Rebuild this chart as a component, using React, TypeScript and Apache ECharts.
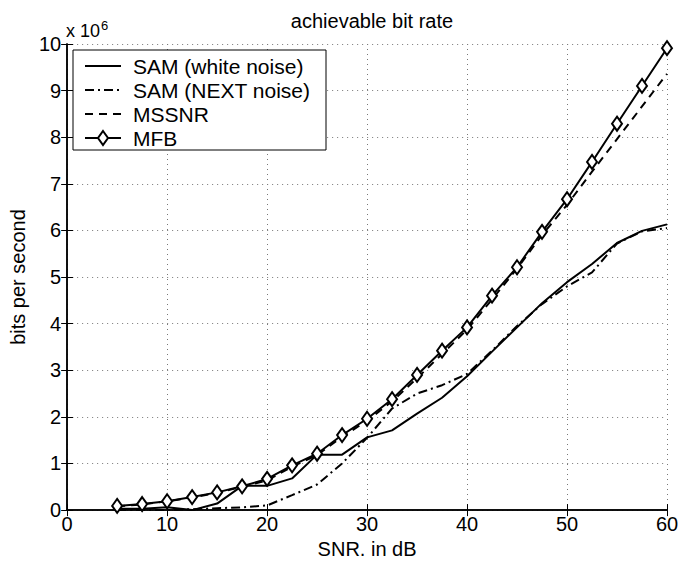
import React, { useEffect, useRef } from "react";
import * as echarts from "echarts";

const snr = [5, 7.5, 10, 12.5, 15, 17.5, 20, 22.5, 25, 27.5, 30, 32.5, 35, 37.5, 40, 42.5, 45, 47.5, 50, 52.5, 55, 57.5, 60];
const samWhite = [0.03, 0.03, 0.06, 0.0, 0.14, 0.52, 0.52, 0.68, 1.19, 1.19, 1.56, 1.71, 2.07, 2.41, 2.87, 3.4, 3.92, 4.44, 4.89, 5.28, 5.73, 5.99, 6.13];
const samNext = [0.0, 0.0, 0.0, 0.02, 0.04, 0.06, 0.1, 0.32, 0.55, 1.0, 1.55, 2.18, 2.5, 2.68, 2.92, 3.42, 3.95, 4.42, 4.8, 5.1, 5.72, 5.98, 6.05];
const mssnr = [0.08, 0.12, 0.19, 0.27, 0.37, 0.5, 0.64, 0.93, 1.18, 1.57, 1.92, 2.33, 2.83, 3.35, 3.87, 4.52, 5.18, 5.9, 6.55, 7.26, 7.96, 8.66, 9.36];
const mfb = [0.09, 0.13, 0.19, 0.28, 0.38, 0.51, 0.67, 0.96, 1.21, 1.61, 1.96, 2.38, 2.9, 3.42, 3.92, 4.6, 5.21, 5.97, 6.67, 7.47, 8.29, 9.1, 9.91];

const names = ["SAM (white noise)", "SAM (NEXT noise)", "MSSNR", "MFB"];
const FONT = "'Liberation Sans', Arial, Helvetica, sans-serif";

const pairs = (ys: number[]) => snr.map((x, i) => [x, ys[i]]);

const DASHDOT = [9, 4, 2, 4];
const DASHED = [8, 6];

export default function App() {
  const ref = useRef<HTMLDivElement>(null);
  useEffect(() => {
    if (!ref.current) return;
    const chart = echarts.init(ref.current, null, { renderer: "svg" });
    const gridLine = { show: true, lineStyle: { color: "#777", type: [1, 4] as any, width: 1 } };
    const lineW = 2;
    const tick = { show: true, inside: true, length: 6, lineStyle: { color: "#000" } };
    const axLine = { show: true, lineStyle: { color: "#000", width: 1.5 } };

    // custom legend
    const lgX = 73, lgY = 50, lgW = 253, lgH = 100;
    const rowY = [66, 90, 114, 138];
    const styles: any[] = [null, DASHDOT, DASHED, null];
    const legendEls: any[] = [
      { type: "rect", shape: { x: lgX, y: lgY, width: lgW, height: lgH }, style: { fill: "#fff", stroke: "#000", lineWidth: 1 }, z: 100 },
    ];
    names.forEach((n, i) => {
      legendEls.push({
        type: "line",
        shape: { x1: 85, y1: rowY[i], x2: 121, y2: rowY[i] },
        style: { stroke: "#000", lineWidth: 2, lineDash: styles[i] || null },
        z: 101,
      });
      legendEls.push({
        type: "text",
        x: 133,
        y: rowY[i],
        style: { text: n, fontFamily: FONT, fontSize: 21, fill: "#000", verticalAlign: "middle", align: "left" },
        z: 101,
      });
    });
    legendEls.push({
      type: "polygon",
      shape: { points: [[103, rowY[3] - 7], [108, rowY[3]], [103, rowY[3] + 7], [98, rowY[3]]] },
      style: { fill: "#fff", stroke: "#000", lineWidth: 2 },
      z: 102,
    });

    chart.setOption({
      animation: false,
      backgroundColor: "#fff",
      textStyle: { fontFamily: FONT },
      title: {
        text: "achievable bit rate",
        left: 367,
        top: 6,
        textAlign: "center",
        textStyle: { fontFamily: FONT, fontSize: 20, fontWeight: "normal", color: "#000" },
      },
      grid: { left: 67, right: 29, top: 44, bottom: 49 },
      xAxis: [
        {
          type: "value",
          min: 0,
          max: 60,
          interval: 10,
          name: "SNR, in dB",
          nameLocation: "middle",
          nameGap: 24,
          nameTextStyle: { fontFamily: FONT, fontSize: 20, color: "#000" },
          axisLine: axLine,
          axisTick: tick,
          axisLabel: { fontFamily: FONT, fontSize: 20, color: "#000", margin: 4 },
          splitLine: gridLine,
        },
        {
          type: "value",
          position: "top",
          min: 0,
          max: 60,
          interval: 10,
          axisLine: axLine,
          axisTick: tick,
          axisLabel: { show: false },
          splitLine: { show: false },
        },
      ],
      yAxis: [
        {
          type: "value",
          min: 0,
          max: 10,
          interval: 1,
          name: "bits per second",
          nameLocation: "middle",
          nameGap: 32,
          nameTextStyle: { fontFamily: FONT, fontSize: 20, color: "#000" },
          axisLine: axLine,
          axisTick: tick,
          axisLabel: { fontFamily: FONT, fontSize: 20, color: "#000", margin: 6 },
          splitLine: gridLine,
        },
        {
          type: "value",
          position: "right",
          min: 0,
          max: 10,
          interval: 1,
          axisLine: axLine,
          axisTick: tick,
          axisLabel: { show: false },
          splitLine: { show: false },
        },
      ],
      graphic: [
        {
          type: "text",
          left: 66,
          top: 19,
          style: {
            text: "x 10{sup|6}",
            fontFamily: FONT,
            fontSize: 18,
            fill: "#000",
            rich: { sup: { fontSize: 13, verticalAlign: "top", padding: [0, 0, 10, 1], fontFamily: FONT } },
          },
        },
        ...legendEls,
      ],
      series: [
        {
          name: names[0],
          type: "line",
          data: pairs(samWhite),
          symbol: "none",
          lineStyle: { color: "#000", width: lineW, type: "solid" },
          itemStyle: { color: "#000" },
        },
        {
          name: names[1],
          type: "line",
          data: pairs(samNext),
          symbol: "none",
          lineStyle: { color: "#000", width: lineW, type: DASHDOT },
          itemStyle: { color: "#000" },
        },
        {
          name: names[2],
          type: "line",
          data: pairs(mssnr),
          symbol: "none",
          lineStyle: { color: "#000", width: lineW, type: DASHED },
          itemStyle: { color: "#000" },
        },
        {
          name: names[3],
          type: "line",
          data: pairs(mfb),
          symbol: "diamond",
          symbolSize: [10, 14],
          lineStyle: { color: "#000", width: lineW },
          itemStyle: { color: "#fff", borderColor: "#000", borderWidth: 2 },
          z: 5,
        },
      ],
    });
    return () => chart.dispose();
  }, []);
  return <div ref={ref} style={{ width: 696, height: 564, margin: -8 }} />;
}
